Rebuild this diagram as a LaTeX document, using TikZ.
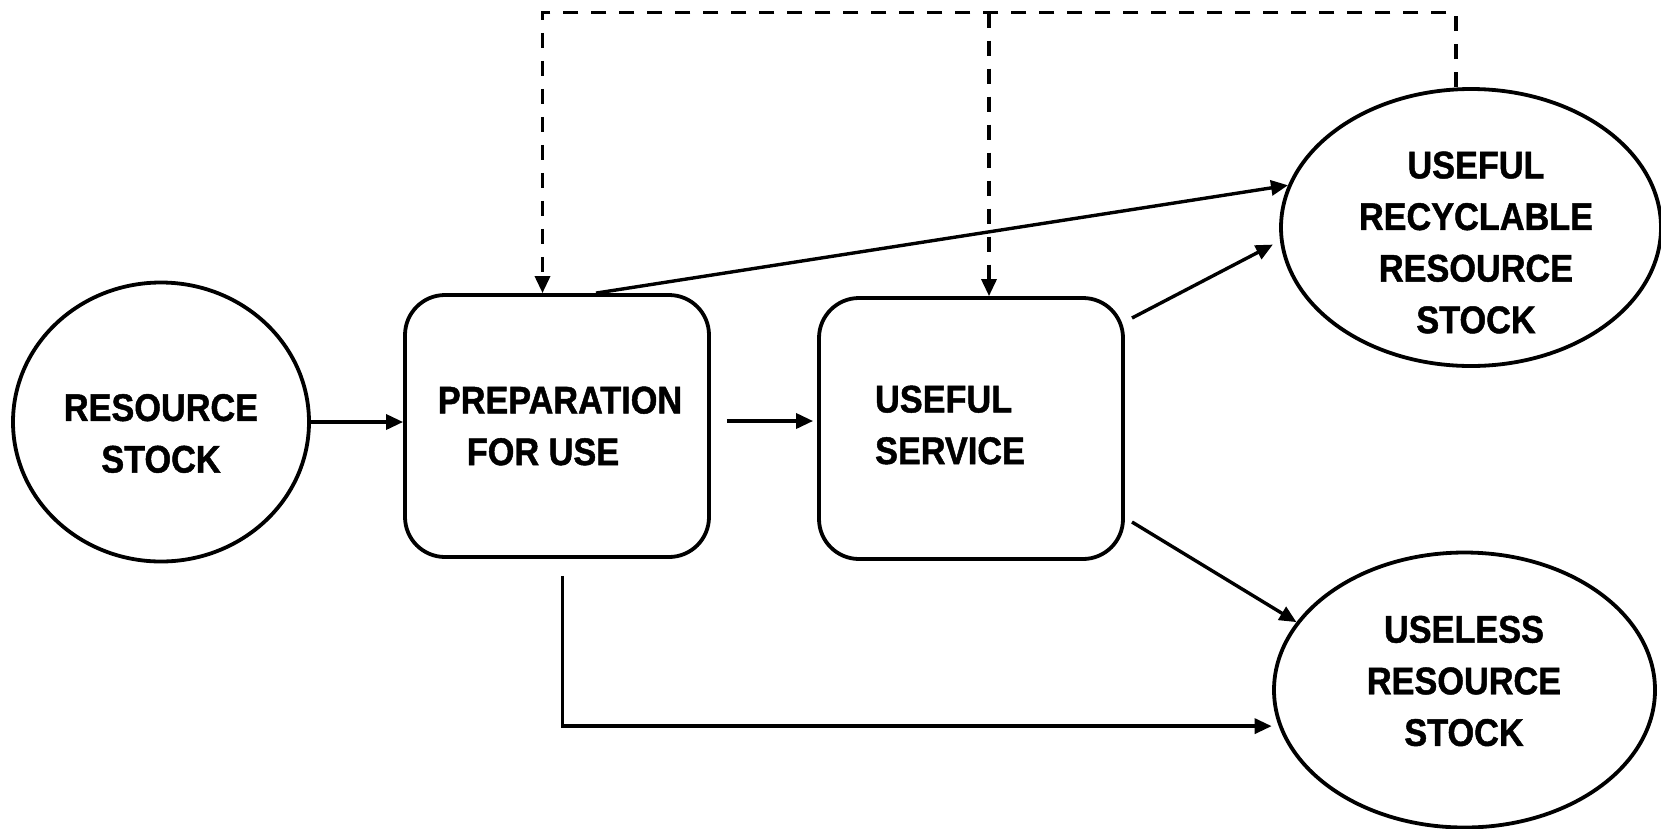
\documentclass[tikz,border=0pt]{standalone}
\usepackage{fontspec}
\newfontfamily\lblfont{Liberation Sans}[FakeStretch=0.89,FakeBold=1.2]
\usetikzlibrary{arrows.meta,shapes.geometric,calc}
\begin{document}
\begin{tikzpicture}[x=1pt,y=-1pt,
  shp/.style={draw=black,line width=3.8pt,inner sep=0pt},
  ell/.style={shp,ellipse},
  box/.style={shp,rectangle,rounded corners=40pt},
  lbl/.style={inner sep=0pt,font=\lblfont\bfseries\fontsize{38.5}{51.6}\selectfont},
  conn/.style={line width=3.4pt,-{Triangle[length=17pt,width=15pt]}},
  fb/.style={line width=3.4pt,dash pattern=on 15pt off 13pt,-{Triangle[length=17pt,width=15pt]}}
]
\useasboundingbox (0,0) rectangle (1661,828);

% shapes
\node[ell,minimum width=296pt,minimum height=279pt] (rs) at (161,422) {};
\node[box,minimum width=304pt,minimum height=262pt] (prep) at (557,426) {};
\node[box,minimum width=304pt,minimum height=261pt] (serv) at (971,428.5) {};
\node[ell,minimum width=380pt,minimum height=277pt] (rec) at (1471,227.5) {};
\node[ell,minimum width=381pt,minimum height=275pt] (les) at (1464.5,690) {};

% labels
\node[lbl,align=center] (rst) at (161,433.5) {RESOURCE\\STOCK};
\node[lbl,align=left] (prt) at (560,426) {PREPARATION\\\hspace*{29pt}FOR USE};
\node[lbl,align=left] (svt) at (950,425) {USEFUL\\SERVICE};
\node[lbl,align=center] (rct) at (1476,242.5) {USEFUL\\RECYCLABLE\\RESOURCE\\STOCK};
\node[lbl,align=center] (lst) at (1464,681) {USELESS\\RESOURCE\\STOCK};

% helper coordinates
\coordinate (pin) at ([xshift=-14.5pt]prep.north);
\coordinate (sin) at ([xshift=18pt]serv.north);
\coordinate (rout) at ([xshift=-15pt]rec.north);
\coordinate (fbtop) at (0,12.7);
\coordinate (pout) at ([xshift=39pt]prep.north);
\coordinate (pbot) at ([xshift=5.5pt,yshift=-17pt]prep.south);
\coordinate (sa) at (1132,318);
\coordinate (sb) at (1132,522);

% connectors
\draw[conn] (rs.east) -- (rs.east -| prep.west);
\draw[conn,shorten <=16pt,shorten >=4pt] ([yshift=5pt]prep.east) -- ([yshift=5pt]prep.east -| serv.west);
\draw[conn] (pout) -- (rec.167.6);
\draw[conn,shorten >=8pt] (sa) -- (rec.184.5);
\draw[conn] (sb) -- (les.158.5);
\draw[conn,shorten >=7pt] (pbot) |- (les.191.4);

% dashed feedback
\draw[fb] (rout) |- (pin |- fbtop) -- (pin);
\draw[fb] (sin |- fbtop) -- (sin);
\end{tikzpicture}
\end{document}
